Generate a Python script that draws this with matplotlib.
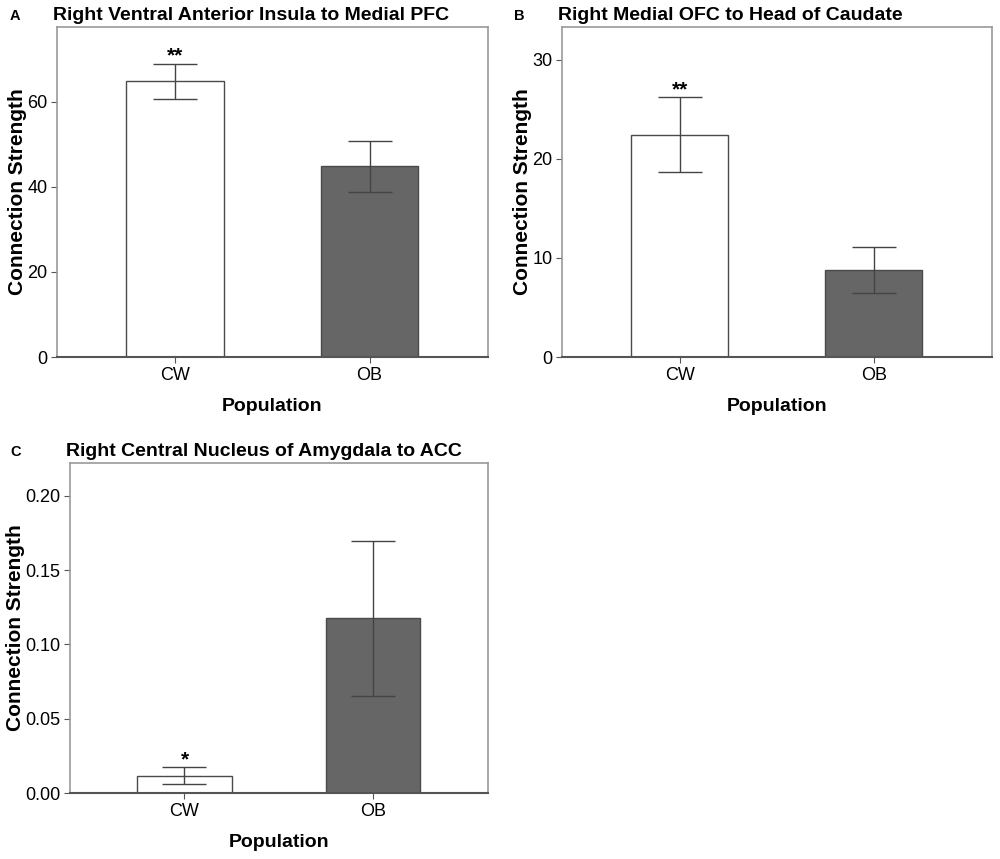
import matplotlib
matplotlib.use('Agg')
from matplotlib import pyplot as plt

plt.rcParams['font.family'] = ['Liberation Sans', 'DejaVu Sans']

# data
groups = ['CW', 'OB']

titles = ['Right Ventral Anterior Insula to Medial PFC',
          'Right Medial OFC to Head of Caudate',
          'Right Central Nucleus of Amygdala to ACC']
letters = ['A', 'B', 'C']

means_a = [64.8, 45.0]
upper_a = [69.0, 50.9]
lower_a = [60.6, 38.9]

means_b = [22.4, 8.8]
upper_b = [26.2, 11.1]
lower_b = [18.65, 6.5]

means_c = [0.0117, 0.1175]
upper_c = [0.0172, 0.1695]
lower_c = [0.0063, 0.0655]

stars = ['**', '**', '*']

yticks_a = [0, 20, 40, 60]
yticks_b = [0, 10, 20, 30]
yticks_c = [0.00, 0.05, 0.10, 0.15, 0.20]
ylims = [77.6, 33.3, 0.222]

fig = plt.figure(figsize=(10, 8.59), dpi=100)
boxes = [[0.057, 0.5844, 0.431, 0.3842],
         [0.562, 0.5844, 0.430, 0.3842],
         [0.070, 0.0768, 0.418, 0.3842]]
letter_x = [0.010, 0.514, 0.010]

panels = [(means_a, upper_a, lower_a, yticks_a, '%d'),
          (means_b, upper_b, lower_b, yticks_b, '%d'),
          (means_c, upper_c, lower_c, yticks_c, '%.2f')]

for i, (means, up, lo, yt, fmt) in enumerate(panels):
    ax = fig.add_axes(boxes[i])
    x = [0, 1]
    ax.bar(x, means, width=0.5, color=['white', '#666666'],
           edgecolor='#4a4a4a', linewidth=1.0, zorder=2)
    err = [[m - l for m, l in zip(means, lo)], [u - m for m, u in zip(means, up)]]
    ax.errorbar(x, means, yerr=err, fmt='none', ecolor='#444444',
                elinewidth=1.0, capsize=16, capthick=1.0, zorder=3)
    ax.text(0, up[0] - ylims[i] * 0.006, stars[i], ha='center', va='bottom',
            fontsize=15, fontweight='bold')
    ax.set_xlim(-0.607, 1.609)
    ax.set_ylim(0, ylims[i])
    ax.set_xticks(x)
    ax.set_xticklabels(groups)
    ax.set_yticks(yt)
    ax.set_yticklabels([fmt % v for v in yt])
    ax.tick_params(labelsize=13, direction='out', length=4, color='#555555', pad=3)
    for s in ['top', 'right', 'left']:
        ax.spines[s].set_color('#999999')
        ax.spines[s].set_linewidth(1.2)
    ax.spines['bottom'].set_color('#555555')
    ax.spines['bottom'].set_linewidth(1.5)
    ax.set_xlabel('Population', fontsize=14, fontweight='bold', labelpad=10)
    ax.set_ylabel('Connection Strength', fontsize=15, fontweight='bold', labelpad=0)
    ax.set_title(titles[i], fontsize=14, fontweight='bold', loc='left', pad=5, x=-0.01)
    fig.text(letter_x[i], boxes[i][1] + boxes[i][3] + 0.013, letters[i],
             fontsize=10.5, fontweight='bold', va='center')

fig.savefig('out.png', dpi=100, facecolor='white')
